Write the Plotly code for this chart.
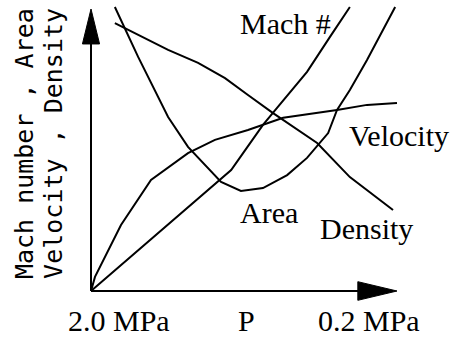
import plotly.graph_objects as go

# Qualitative curves (arbitrary units: x = position along pressure axis 0..10, y = 0..10)
density_x = [0.78, 2.52, 3.50, 4.38, 5.13, 5.95, 7.39, 8.46, 9.87]
density_y = [9.50, 8.55, 8.09, 7.55, 6.95, 6.31, 5.25, 4.04, 2.87]

area_x = [0.78, 1.54, 2.52, 3.17, 4.25, 4.90, 5.62, 6.41, 7.06, 7.75, 8.04, 8.46, 9.02, 9.94]
area_y = [10.07, 8.30, 6.17, 5.11, 3.87, 3.55, 3.65, 4.11, 4.72, 5.60, 6.42, 7.13, 8.19, 10.07]

mach_x = [0.00, 4.58, 4.97, 5.62, 6.08, 7.06, 7.81, 8.46]
mach_y = [0.00, 4.29, 4.89, 5.89, 6.49, 7.77, 9.01, 10.07]

velocity_x = [0.00, 0.13, 0.98, 1.96, 3.17, 4.05, 5.13, 6.28, 8.04, 9.02, 10.00]
velocity_y = [0.00, 0.50, 2.34, 3.94, 4.89, 5.36, 5.71, 6.14, 6.42, 6.60, 6.67]

curve_labels = ["Mach #", "Velocity", "Area", "Density"]
x_tick_labels = ["2.0 MPa", "P", "0.2 MPa"]
y_title_lines = ["Mach number , Area", "Velocity , Density"]

fig = go.Figure()
line = dict(color="black", width=2)
for xs, ys, name in [(density_x, density_y, "Density"), (area_x, area_y, "Area"),
                     (mach_x, mach_y, "Mach #"), (velocity_x, velocity_y, "Velocity")]:
    fig.add_trace(go.Scatter(x=xs, y=ys, mode="lines", line=line, name=name,
                             showlegend=False, hoverinfo="skip"))

# axis arrows
fig.add_shape(type="line", x0=0, y0=0, x1=8.75, y1=0, line=dict(color="black", width=2))
fig.add_shape(type="line", x0=0, y0=0, x1=0, y1=8.8, line=dict(color="black", width=2))
fig.add_shape(type="path", path="M 8.72 0.33 L 10 0 L 8.72 -0.33 Z",
              fillcolor="black", line=dict(color="black", width=1))
fig.add_shape(type="path", path="M -0.28 8.76 L 0 10 L 0.28 8.76 Z",
              fillcolor="black", line=dict(color="black", width=1))

serif = dict(family="Liberation Serif, Times New Roman, serif", size=30, color="black")
label_pos = {"Mach #": (4.80, 9.50), "Velocity": (8.37, 5.53),
             "Area": (4.80, 2.77), "Density": (7.42, 2.23)}
for lab in curve_labels:
    x, y = label_pos[lab]
    fig.add_annotation(x=x, y=y, text=lab, showarrow=False, xanchor="left",
                       yanchor="middle", font=serif)

tick_x = [0.90, 5.07, 9.07]
for t, x in zip(x_tick_labels, tick_x):
    fig.add_annotation(x=x, y=-1.06, text=t, showarrow=False, xanchor="center",
                       yanchor="middle", font=serif)

mono = dict(family="DejaVu Sans Mono, monospace", size=25, color="black")
for t, x in zip(y_title_lines, [-2.17, -1.23]):
    fig.add_annotation(x=x, y=5.23, text=t, showarrow=False, textangle=-90,
                       xanchor="center", yanchor="middle", font=mono)

fig.update_layout(
    width=457, height=339, autosize=False,
    margin=dict(l=0, r=0, t=0, b=0),
    paper_bgcolor="white", plot_bgcolor="white",
    xaxis=dict(range=[-2.974, 11.961], visible=False, fixedrange=True),
    yaxis=dict(range=[-1.702, 10.319], visible=False, fixedrange=True),
)

fig.write_html("out.html", config={"displayModeBar": False},
               post_script="document.body.style.margin='0';document.body.style.overflow='hidden';")
